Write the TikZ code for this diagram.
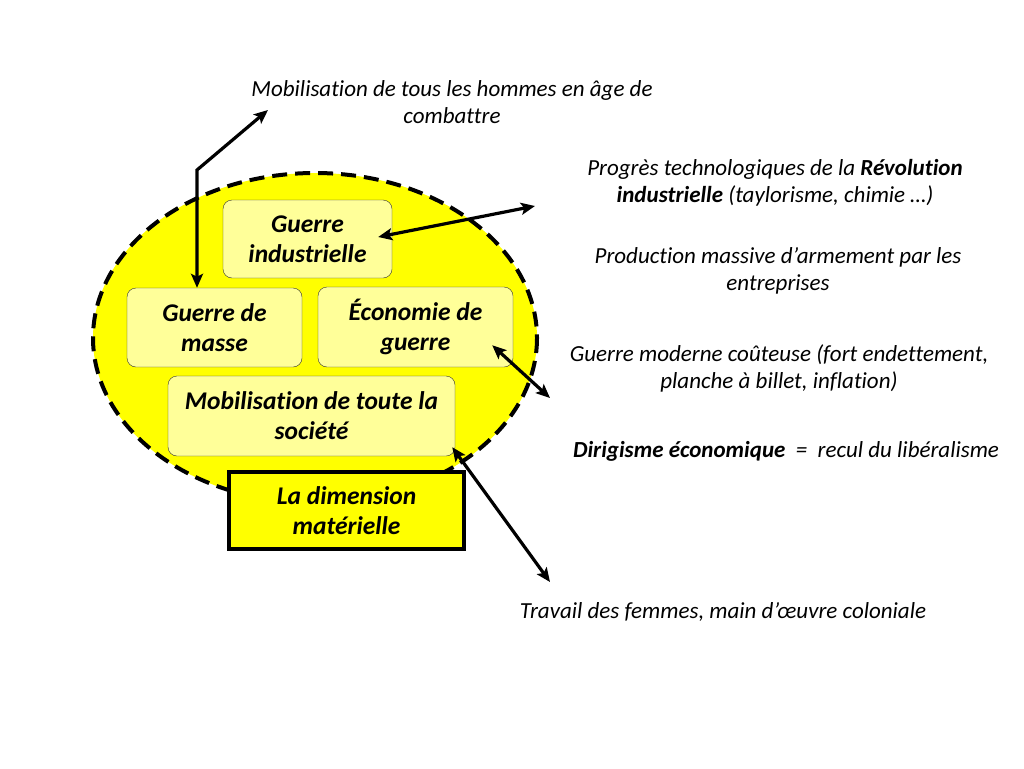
\documentclass[tikz,border=0pt]{standalone}
\usepackage{fontspec}
\setmainfont{Carlito}[Ligatures={TeX,NoCommon}]
\usepackage{xcolor}
\usetikzlibrary{arrows.meta,positioning,calc}
\definecolor{slideyellow}{HTML}{FFFF00}
\definecolor{boxfill}{HTML}{FFFF99}

\begin{document}
\begin{tikzpicture}[x=1pt, y=-1pt,
  bx/.style={draw=black!80, fill=boxfill, rounded corners=9pt, align=center, inner sep=0pt,
             font=\fontsize{25.5}{30}\selectfont\bfseries\itshape},
  note/.style={align=center, font=\fontsize{23}{27}\selectfont\itshape},
  arr/.style={{Stealth[length=14pt,width=12pt,inset=3pt]}-{Stealth[length=14pt,width=12pt,inset=3pt]}, line width=3.2pt, black}]
  \useasboundingbox (0,0) rectangle (1024,768);
  \draw[fill=slideyellow, line width=4pt, dash pattern=on 15pt off 8pt] (315,338) ellipse (222 and 165);
  \node[bx, minimum width=169pt, minimum height=78pt] (gi) at (307.5,239) {Guerre\\industrielle};
  \node[bx, minimum width=175pt, minimum height=79pt] (gm) at (214.5,327.5) {Guerre de\\masse};
  \node[bx, minimum width=195pt, minimum height=80pt] (eg) at (415.5,327) {Économie de\\guerre};
  \node[bx, minimum width=287pt, minimum height=80pt] (ms) at (311.5,416) {Mobilisation de toute la\\société};
  \node[bx, draw=black, line width=3.5pt, fill=slideyellow, rounded corners=0pt,
        minimum width=235pt, minimum height=77pt] (dm) at (346.5,510.5) {La dimension\\matérielle};
  \node[note] (t1) at (452,102) {Mobilisation de tous les hommes en âge de\\combattre};
  \node[note] (t2) at (775,182.5) {Progrès technologiques de la \textbf{Révolution}\\\textbf{industrielle} (taylorisme, chimie …)};
  \node[note] (t3) at (778,270.5) {Production massive d’armement par les\\entreprises};
  \node[note] (t4) at (779,368.5) {Guerre moderne coûteuse (fort endettement,\\planche à billet, inflation)};
  \node[note] (t5) at (786,451) {\textbf{Dirigisme économique}\ \ =\ \ recul du libéralisme};
  \node[note] (t6) at (723,612) {Travail des femmes, main d’œuvre coloniale};
  \coordinate (c1) at (268,110);
  \coordinate (k1) at (197,170);
  \coordinate (c2) at (535,206);
  \coordinate (c3) at (550,398);
  \coordinate (c4) at (550,582);
  \draw[arr] (c1) -- (k1) -- ([xshift=-17.5pt]gm.north);
  \draw[arr] ([xshift=-14pt,yshift=2pt]gi.east) -- (c2);
  \draw[arr] ($(eg.south east)+(-21,-22)$) -- (c3);
  \draw[arr] ($(ms.south east)+(-3,-9)$) -- (c4);
\end{tikzpicture}
\end{document}
